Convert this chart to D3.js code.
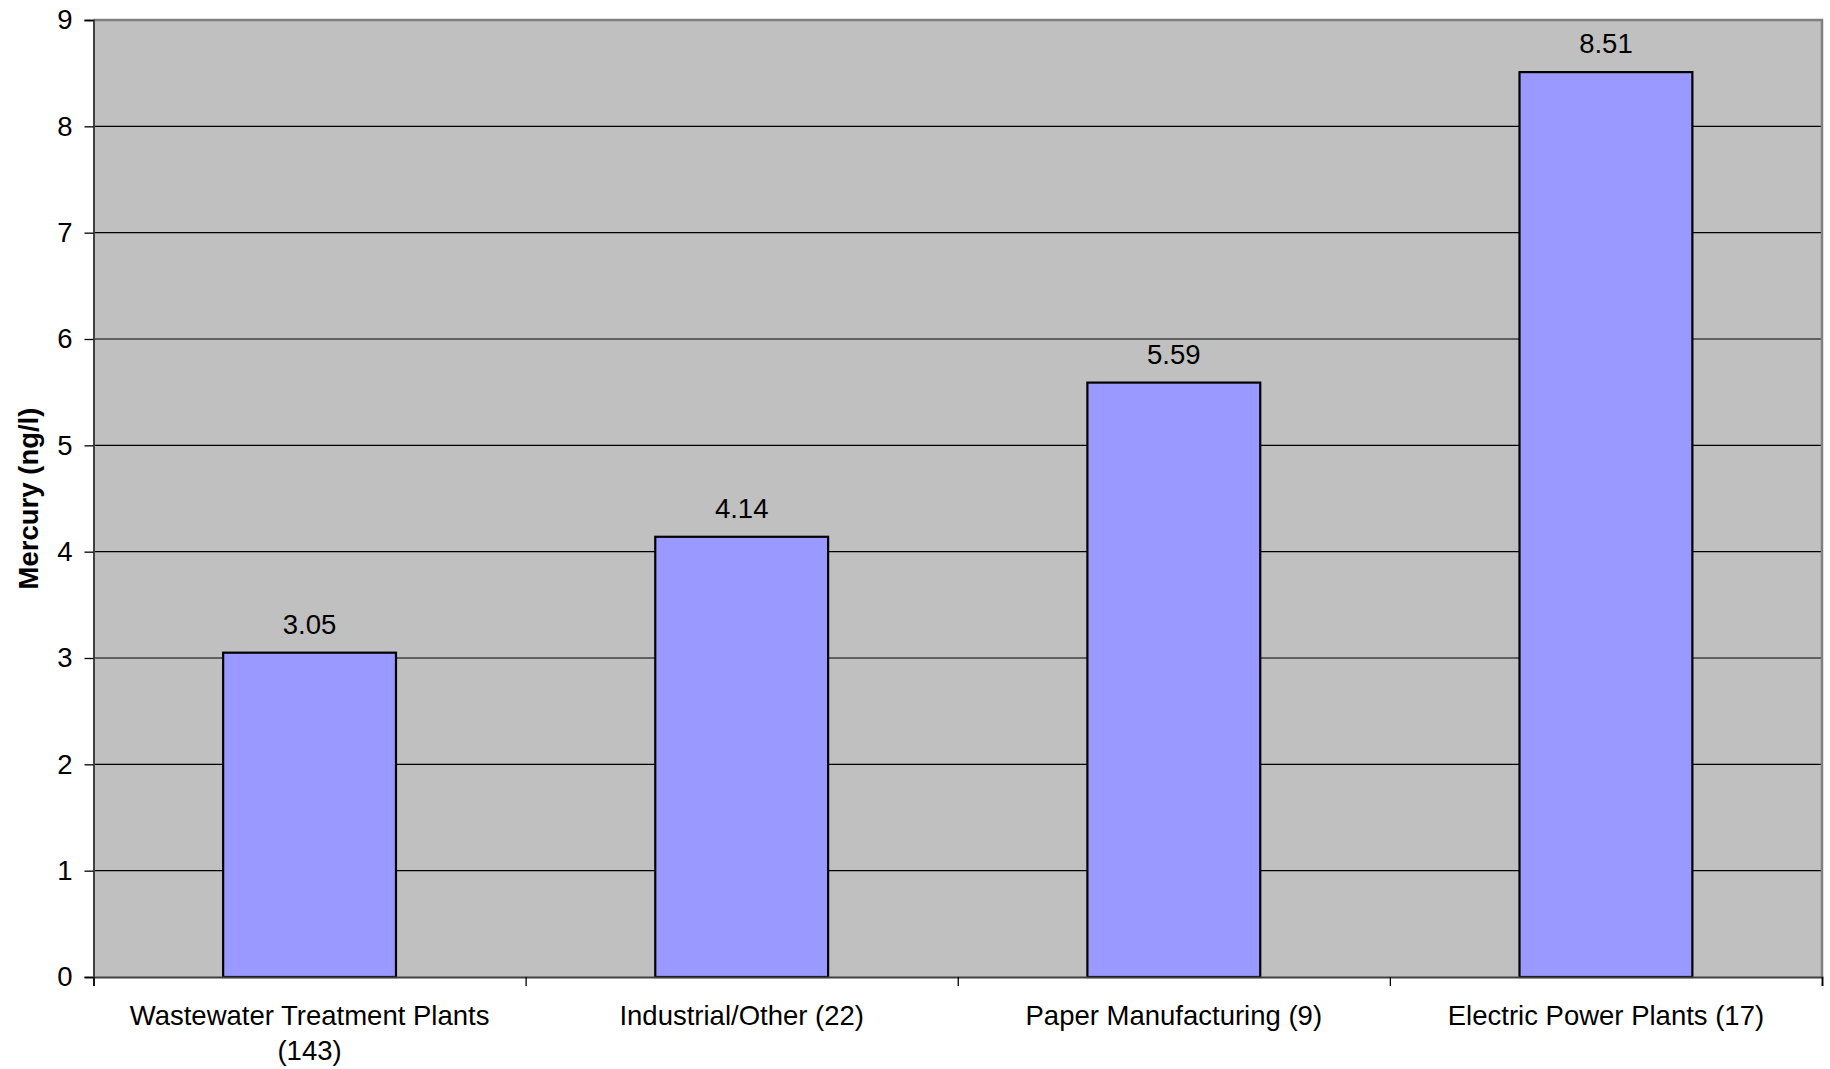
<!DOCTYPE html>
<html>
<head>
<meta charset="utf-8">
<script src="https://cdn.jsdelivr.net/npm/d3@7"></script>
<style>
  html, body { margin: 0; padding: 0; background: #ffffff; }
  svg { display: block; font-family: Arial, "Liberation Sans", sans-serif; }
</style>
</head>
<body>
<svg id="chart" width="1830" height="1069"></svg>
<script>
// Mean mercury concentration by discharger type (number of facilities in parentheses)
const categories = ["Wastewater Treatment Plants (143)", "Industrial/Other (22)", "Paper Manufacturing (9)", "Electric Power Plants (17)"];
const categoryLines = [["Wastewater Treatment Plants", "(143)"], ["Industrial/Other (22)"], ["Paper Manufacturing (9)"], ["Electric Power Plants (17)"]];
const values = [3.05, 4.14, 5.59, 8.51];
const yTicks = [0, 1, 2, 3, 4, 5, 6, 7, 8, 9];
const yTitle = "Mercury (ng/l)";

const svg = d3.select("#chart");
const margin = { left: 93.5, right: 8, top: 20, bottom: 92 };
const W = 1830, H = 1069;
const plotW = W - margin.left - margin.right;
const plotH = H - margin.top - margin.bottom;

const x = d3.scaleBand().domain(categories).range([0, plotW]).paddingInner(0.6).paddingOuter(0.3);
const xEdge = d3.scaleLinear().domain([0, categories.length]).range([0, plotW]);
const y = d3.scaleLinear().domain([0, 9]).range([plotH, 0]);

const g = svg.append("g").attr("transform", `translate(${margin.left},${margin.top})`);

// plot background
g.append("rect").attr("x", 0).attr("y", 0).attr("width", plotW).attr("height", plotH).attr("fill", "#c0c0c0");

// gridlines
g.append("g").selectAll("line").data(yTicks.filter(t => t > 0 && t < 9)).join("line")
  .attr("x1", 0).attr("x2", plotW)
  .attr("y1", d => y(d)).attr("y2", d => y(d))
  .attr("stroke", "#000").attr("stroke-width", 1.2);

// frame: top and right edges
g.append("path")
  .attr("d", `M0,${y(9)}H${plotW}V${plotH}`)
  .attr("fill", "none").attr("stroke", "#808080").attr("stroke-width", 2.5);

// bars
g.append("g").selectAll("rect").data(values).join("rect")
  .attr("x", (d, i) => x(categories[i]))
  .attr("y", d => y(d))
  .attr("width", x.bandwidth())
  .attr("height", d => plotH - y(d))
  .attr("fill", "#9999ff")
  .attr("stroke", "#000").attr("stroke-width", 2.2);

// value labels
g.append("g").selectAll("text").data(values).join("text")
  .attr("x", (d, i) => x(categories[i]) + x.bandwidth() / 2)
  .attr("y", d => y(d) - 19)
  .attr("text-anchor", "middle")
  .attr("font-size", 27.5)
  .attr("fill", "#000")
  .text(d => d.toFixed(2));

// y axis
const yAxis = g.append("g")
  .call(d3.axisLeft(y).tickValues(yTicks).tickSize(9).tickPadding(12).tickFormat(d3.format("d")));
yAxis.select(".domain").attr("stroke", "#404040").attr("stroke-width", 2);
yAxis.selectAll(".tick line").attr("stroke", "#000").attr("stroke-width", 1.3);
yAxis.selectAll(".tick text").attr("font-size", 27.5).attr("fill", "#000").attr("font-family", "Arial, 'Liberation Sans', sans-serif");

// x axis with ticks at category boundaries
const xAxis = g.append("g").attr("transform", `translate(0,${plotH})`)
  .call(d3.axisBottom(xEdge).tickValues(d3.range(categories.length + 1)).tickSize(9).tickFormat(""));
xAxis.select(".domain").attr("stroke", "#404040").attr("stroke-width", 2);
xAxis.selectAll(".tick line").attr("stroke", "#000").attr("stroke-width", 1.3);

// category labels
const cat = g.append("g").selectAll("text").data(categoryLines).join("text")
  .attr("x", (d, i) => x(categories[i]) + x.bandwidth() / 2)
  .attr("y", plotH + 48)
  .attr("text-anchor", "middle")
  .attr("font-size", 27.5)
  .attr("fill", "#000");
cat.selectAll("tspan").data(d => d).join("tspan")
  .attr("x", function () { return d3.select(this.parentNode).attr("x"); })
  .attr("dy", (d, i) => i === 0 ? 0 : 35)
  .text(d => d);

// y axis title
svg.append("text")
  .attr("transform", `translate(38,${margin.top + plotH / 2}) rotate(-90)`)
  .attr("text-anchor", "middle")
  .attr("font-size", 27.5)
  .attr("font-weight", "bold")
  .attr("fill", "#000")
  .text(yTitle);
</script>
</body>
</html>
